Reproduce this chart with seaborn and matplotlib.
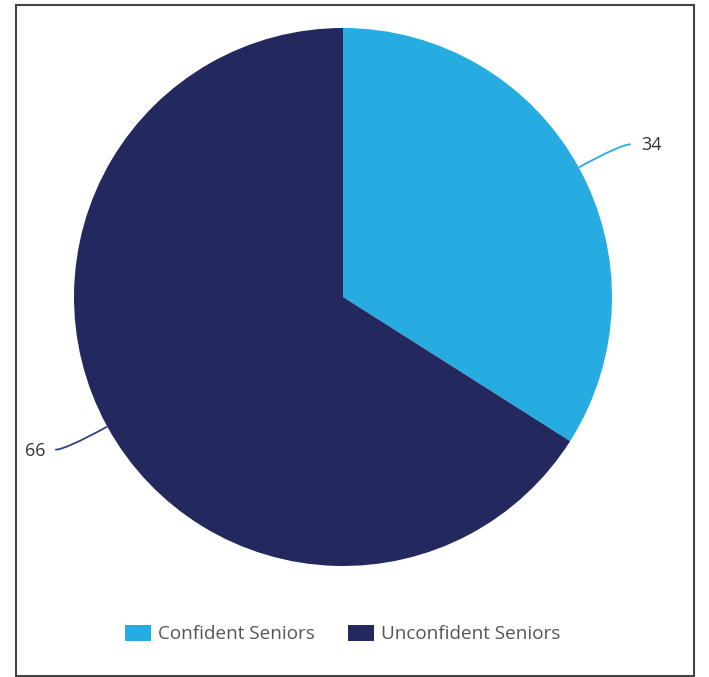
import numpy as np
import matplotlib
matplotlib.use("Agg")
import matplotlib.pyplot as plt
from matplotlib.patches import Rectangle
from matplotlib.path import Path
from matplotlib.patches import PathPatch
import seaborn as sns

labels = ["Confident Seniors", "Unconfident Seniors"]
values = [34, 66]
colors = ["#27ACE2", "#23285E"]

sns.set_theme(style="white")
plt.rcParams["font.family"] = ["Open Sans", "DejaVu Sans"]

W, H = 709, 677
fig = plt.figure(figsize=(W / 100, H / 100), dpi=100)
ax = fig.add_axes([0, 0, 1, 1])

cx, cy, R = 343, H - 297, 269
wedges, _ = ax.pie(values, colors=colors, startangle=90, counterclock=False,
                   center=(cx, cy), radius=R, frame=True,
                   wedgeprops=dict(linewidth=0))
ax.set_xlim(0, W)
ax.set_ylim(0, H)
ax.set_aspect("equal")
ax.axis("off")

for w, v in zip(wedges, values):
    ang = np.deg2rad((w.theta1 + w.theta2) / 2)
    c, s = np.cos(ang), np.sin(ang)
    p0 = (cx + R * c, cy + R * s)
    p1 = (cx + (R + 48) * c, cy + (R + 48) * s)
    side = 1 if c >= 0 else -1
    p2 = (p1[0] + 10 * side, p1[1])
    path = Path([p0, p1, p2], [Path.MOVETO, Path.CURVE3, Path.CURVE3])
    edge = w.get_facecolor() if side > 0 else "#34418A"
    ax.add_patch(PathPatch(path, fill=False, edgecolor=edge, lw=1.3))
    ax.text(p2[0] + 10 * side, p2[1] - 1, str(v), ha="left" if side > 0 else "right",
            va="center", fontsize=13, color="#333333")

leg = fig.legend(wedges, labels, loc="center", bbox_to_anchor=(343 / W, 1 - 634 / H),
                 ncol=2, frameon=False, fontsize=13.6, handlelength=1.35, handleheight=1.0,
                 handletextpad=0.4, columnspacing=1.75, labelcolor="#555555")

fig.patches.append(Rectangle((16 / W, 1 - 676 / H), (694 - 16) / W, (676 - 5) / H,
                             transform=fig.transFigure, fill=False,
                             edgecolor="#444444", lw=1.5))

fig.savefig("out.png", dpi=100)
